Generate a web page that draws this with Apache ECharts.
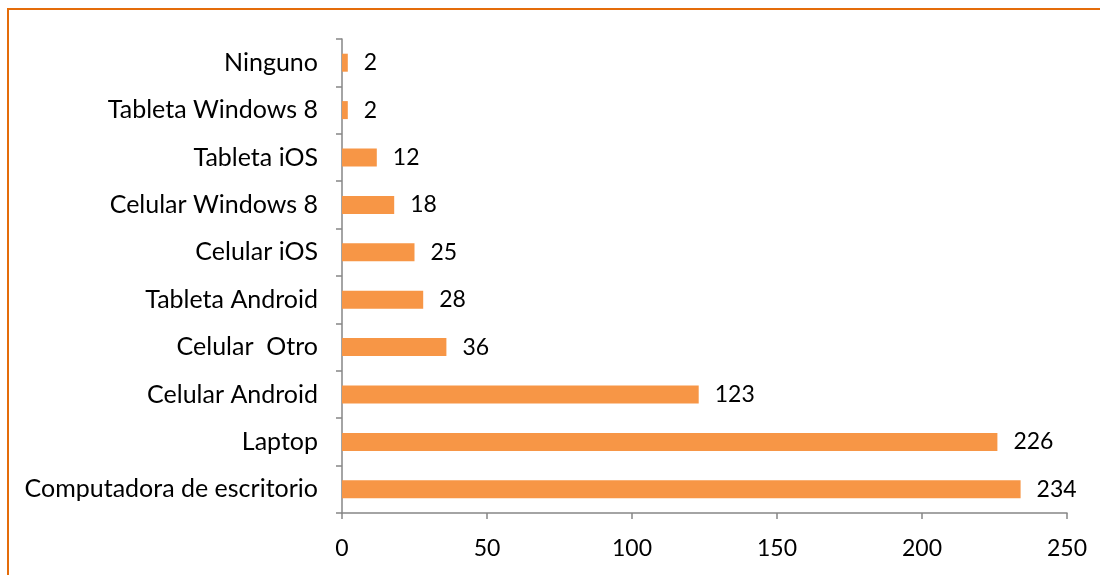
<!DOCTYPE html>
<html>
<head>
<meta charset="utf-8">
<script src="https://cdn.jsdelivr.net/npm/echarts@6/dist/echarts.min.js"></script>
<style>html,body{margin:0;padding:0;background:#fff}#c{width:1100px;height:575px}</style>
</head>
<body>
<div id="c"></div>
<script>
const categories = ["Computadora de escritorio","Laptop","Celular Android","Celular  Otro","Tableta Android","Celular iOS","Celular Windows 8","Tableta iOS","Tableta Windows 8","Ninguno"];
const values = [234,226,123,36,28,25,18,12,2,2];
const xTicks = [0,50,100,150,200,250];

const chart = echarts.init(document.getElementById('c'));
const font = "Lato, 'Open Sans', sans-serif";
chart.setOption({
  animation: false,
  graphic: [{
    type: 'rect', silent: true,
    shape: {x: 8, y: 9, width: 1300, height: 800},
    style: {fill: 'none', stroke: '#E46C0A', lineWidth: 2}
  }],
  grid: {left: 342, right: 33, top: 39, bottom: 62, containLabel: false},
  xAxis: {
    type: 'value', min: xTicks[0], max: xTicks[xTicks.length-1], interval: 50,
    axisLine: {show: true, lineStyle: {color: '#868686', width: 1.5}},
    axisTick: {show: true, length: 6, lineStyle: {color: '#868686', width: 1.5}},
    splitLine: {show: false},
    axisLabel: {color: '#000', fontSize: 23, fontFamily: font, margin: 24}
  },
  yAxis: {
    type: 'category', data: categories,
    axisLine: {show: true, lineStyle: {color: '#868686', width: 1.5}},
    axisTick: {show: true, length: 6, alignWithLabel: false, lineStyle: {color: '#868686', width: 1.5}},
    axisLabel: {color: '#000', fontSize: 25, fontFamily: font, margin: 24}
  },
  series: [{
    type: 'bar', data: values, barWidth: 18,
    itemStyle: {color: '#F79646'},
    label: {show: true, position: 'right', distance: 16, color: '#000', fontSize: 23, fontFamily: font}
  }]
});
</script>
</body>
</html>
